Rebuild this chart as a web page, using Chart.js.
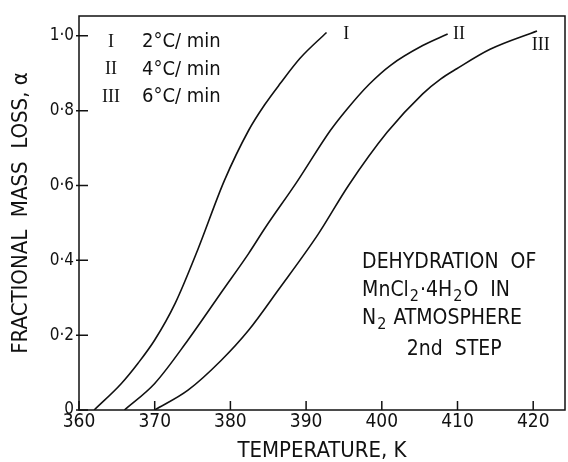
<!DOCTYPE html>
<html>
<head>
<meta charset="utf-8">
<script src="https://cdn.jsdelivr.net/npm/chart.js@4.4.1/dist/chart.umd.min.js"></script>
<style>
  html, body { margin: 0; padding: 0; background: #fff; }
  #wrap { width: 568px; height: 462px; }
</style>
</head>
<body>
<div id="wrap"><canvas id="chart" width="568" height="462"></canvas></div>
<script>
// Dehydration of MnCl2.4H2O, 2nd step - fractional mass loss vs temperature

const curveNames = ['I', 'II', 'III'];
const heatingRates = ['2°C/ min', '4°C/ min', '6°C/ min'];

// Curve I (2 C/min)
const tempI  = [362.0, 365.6, 367.8, 370.0, 372.7, 375.7, 379.2, 382.4, 384.5, 386.6, 389.2, 392.7];
const alphaI = [0, 0.071, 0.125, 0.187, 0.285, 0.429, 0.613, 0.747, 0.815, 0.873, 0.94, 1.009];

// Curve II (4 C/min)
const tempII  = [366.0, 370.0, 374.4, 379.0, 382.4, 384.6, 388.7, 393.2, 395.4, 398.3, 401.2, 405.4, 408.7];
const alphaII = [0, 0.071, 0.187, 0.32, 0.418, 0.487, 0.607, 0.747, 0.804, 0.87, 0.922, 0.974, 1.005];

// Curve III (6 C/min)
const tempIII  = [370.0, 374.4, 378.8, 382.4, 386.3, 391.6, 395.6, 400.7, 405.4, 407.8, 409.9, 414.3, 420.5];
const alphaIII = [0, 0.053, 0.133, 0.213, 0.32, 0.47, 0.6, 0.742, 0.845, 0.885, 0.912, 0.964, 1.013];

// where the curve names sit (data coords)
const labelTemps  = [394.9, 409.4, 419.8];
const labelAlphas = [1.003, 1.003, 0.976];

const SANS = "'DejaVu Sans Condensed', 'DejaVu Sans', sans-serif";
const SERIF = "'Liberation Serif', 'DejaVu Serif', serif";
const INK = '#111';

function toPoints(xs, ys) {
    return xs.map((v, i) => ({ x: v, y: ys[i] }));
}

function curve(xs, ys) {
    return {
        data: toPoints(xs, ys),
        borderColor: INK,
        borderWidth: 1.6,
        pointRadius: 0,
        fill: false,
        cubicInterpolationMode: 'monotone'
    };
}

// draws text with subscript pieces, e.g. ['MnCl', {sub: '2'}]
function drawRich(ctx, parts, x, y, size) {
    let cx = x;
    parts.forEach(p => {
        if (typeof p === 'string') {
            ctx.font = `${size}px ${SANS}`;
            ctx.fillText(p, cx, y);
            cx += ctx.measureText(p).width;
        } else {
            ctx.font = `${Math.round(size * 0.75)}px ${SANS}`;
            ctx.fillText(p.sub, cx + 1, y + size * 0.3);
            cx += ctx.measureText(p.sub).width + 2;
        }
    });
}

const overlay = {
    id: 'overlay',
    afterDraw(chart) {
        const { ctx, chartArea: a, scales: { x, y } } = chart;
        ctx.save();
        ctx.strokeStyle = INK;
        ctx.fillStyle = INK;
        ctx.lineWidth = 1.5;

        // frame
        ctx.strokeRect(a.left, a.top, a.right - a.left, a.bottom - a.top);

        // inward tick marks
        ctx.beginPath();
        x.ticks.forEach(t => {
            const px = x.getPixelForValue(t.value);
            ctx.moveTo(px, a.bottom);
            ctx.lineTo(px, a.bottom - 9);
        });
        y.ticks.forEach(t => {
            const py = y.getPixelForValue(t.value);
            ctx.moveTo(a.left - 3, py);
            ctx.lineTo(a.left + 9, py);
        });
        ctx.stroke();

        // legend in top-left corner
        ctx.textBaseline = 'middle';
        curveNames.forEach((name, i) => {
            const ty = a.top + 26 + i * 27.5;
            ctx.font = `18px ${SERIF}`;
            ctx.textAlign = 'center';
            ctx.fillText(name, a.left + 32, ty);
            ctx.font = `20px ${SANS}`;
            ctx.textAlign = 'left';
            ctx.fillText(heatingRates[i], a.left + 63, ty);
        });

        // curve names
        ctx.font = `18px ${SERIF}`;
        ctx.textAlign = 'left';
        curveNames.forEach((name, i) => {
            ctx.fillText(name, x.getPixelForValue(labelTemps[i]), y.getPixelForValue(labelAlphas[i]));
        });

        // annotation
        const ax = x.getPixelForValue(397.4);
        drawRich(ctx, ['DEHYDRATION  OF'], ax, y.getPixelForValue(0.393), 21);
        drawRich(ctx, ['MnCl', { sub: '2' }, '·4H', { sub: '2' }, 'O  IN'], ax, y.getPixelForValue(0.32), 21);
        drawRich(ctx, ['N', { sub: '2' }, ' ATMOSPHERE'], ax, y.getPixelForValue(0.245), 21);
        drawRich(ctx, ['2nd  STEP'], x.getPixelForValue(403.3), y.getPixelForValue(0.161), 21);

        ctx.restore();
    }
};

new Chart(document.getElementById('chart'), {
    type: 'line',
    data: {
        datasets: [curve(tempI, alphaI), curve(tempII, alphaII), curve(tempIII, alphaIII)]
    },
    options: {
        responsive: false,
        animation: false,
        layout: { padding: { top: 16, right: 3, left: 0, bottom: 0 } },
        plugins: { legend: { display: false }, tooltip: { enabled: false } },
        scales: {
            x: {
                type: 'linear',
                min: 360,
                max: 424.2,
                afterFit: s => { s.height = 52; },
                grid: { display: false, drawTicks: false },
                border: { display: false },
                ticks: {
                    stepSize: 10,
                    includeBounds: false,
                    padding: 1,
                    color: INK,
                    font: { family: SANS, size: 19 },
                    maxRotation: 0
                },
                title: {
                    display: true,
                    text: 'TEMPERATURE, K',
                    color: INK,
                    font: { family: SANS, size: 22, lineHeight: 1 },
                    padding: { top: 0, bottom: 0 }
                }
            },
            y: {
                min: 0,
                max: 1.053,
                afterFit: s => { s.width = 79; },
                grid: { display: false, drawTicks: false },
                border: { display: false },
                ticks: {
                    stepSize: 0.2,
                    includeBounds: false,
                    padding: 5,
                    color: INK,
                    font: { family: SANS, size: 17 },
                    callback: v => v === 0 ? '0' : v.toFixed(1).replace('.', '·')
                },
                title: {
                    display: true,
                    text: 'FRACTIONAL  MASS  LOSS, α',
                    color: INK,
                    font: { family: SANS, size: 22, lineHeight: 1.2 },
                    padding: { top: 8, bottom: 0 }
                }
            }
        }
    },
    plugins: [overlay]
});
</script>
</body>
</html>
